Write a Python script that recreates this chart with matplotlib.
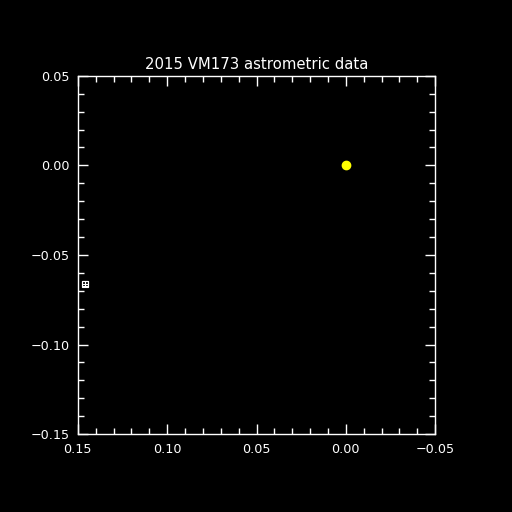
import matplotlib
matplotlib.use("Agg")
import matplotlib.pyplot as plt
from matplotlib.ticker import MultipleLocator

title = "2015 VM173 astrometric data"
obs_x = [0.146]
obs_y = [-0.066]
obs_xerr = [0.0017]
obs_yerr = [0.0013]
ref_x = [0.0]
ref_y = [0.0]
xlim = (0.15, -0.05)
ylim = (-0.15, 0.05)

fig = plt.figure(figsize=(5.12, 5.12), dpi=100, facecolor="black")
ax = fig.add_axes([0.152, 0.152, 0.698, 0.700], facecolor="black")

ax.plot(ref_x, ref_y, "o", color="yellow", markersize=6, zorder=3)
ax.errorbar(obs_x, obs_y, xerr=obs_xerr, yerr=obs_yerr, fmt="s", markersize=4,
            mfc="none", mec="white", ecolor="white", elinewidth=0.8,
            capsize=2, capthick=0.8, markeredgewidth=0.8)

ax.set_xlim(*xlim)
ax.set_ylim(*ylim)
ax.xaxis.set_major_locator(MultipleLocator(0.05))
ax.xaxis.set_minor_locator(MultipleLocator(0.01))
ax.yaxis.set_major_locator(MultipleLocator(0.05))
ax.yaxis.set_minor_locator(MultipleLocator(0.01))
fmt = plt.FuncFormatter(lambda v, p: f"{v:.2f}".replace("-", "\u2212"))
ax.xaxis.set_major_formatter(fmt)
ax.yaxis.set_major_formatter(fmt)

for s in ax.spines.values():
    s.set_color("white")
    s.set_linewidth(1)
ax.tick_params(which="both", direction="in", top=True, right=True, colors="white",
               labelsize=9.2, width=1)
ax.tick_params(which="major", length=7, pad=6)
ax.tick_params(which="minor", length=4)

ax.set_title(title, color="white", fontsize=10.7, pad=5)

fig.savefig("out.png", dpi=100, facecolor="black")
